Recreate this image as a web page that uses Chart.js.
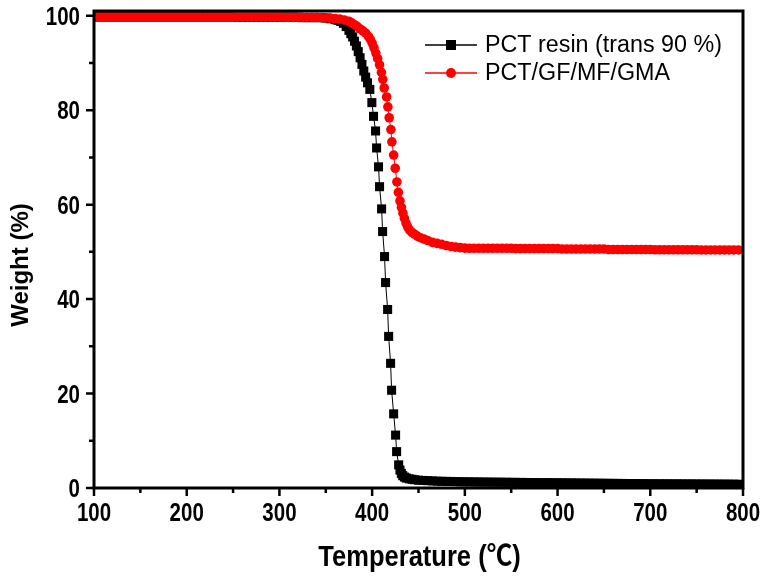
<!DOCTYPE html>
<html><head><meta charset="utf-8">
<script src="https://cdn.jsdelivr.net/npm/chart.js@4.4.0/dist/chart.umd.min.js"></script>
<style>html,body{margin:0;padding:0;background:#fff;}canvas{display:block;}</style>
</head><body>
<canvas id="c" width="766" height="576"></canvas>
<script>
const seriesNames = ['PCT resin (trans 90 %)', 'PCT/GF/MF/GMA'];
const xAxisTitle = 'Temperature (\u2103)';
const yAxisTitle = 'Weight (%)';
const xTickValues = [100, 200, 300, 400, 500, 600, 700, 800];
const yTickValues = [0, 20, 40, 60, 80, 100];

const pctTemp = [100,105,110,115,120,125,130,135,140,145,150,155,160,165,170,175,180,185,190,195,200,205,210,215,220,225,230,235,240,245,250,
255,260,265,270,275,280,285,290,295,300,305,310,315,320,
325,330,335,340,345,350,355,360,
362,364,366,369,372,375,377,379,381,383,385,387,389,391,393,395,
397.5,399.7,401.5,403.7,404.8,406.9,408.0,410.2,411.3,413.4,414.5,416.7,417.8,419.9,421.0,423.2,425.3,426.4,428.6,
430,431.5,433,435,437,440,443,446,450,
455,460,465,470,475,480,485,490,495,500,
505,510,515,520,525,530,535,540,545,550,
555,560,565,570,575,580,585,590,595,600,
605,610,615,620,625,630,635,640,645,650,
655,660,665,670,675,680,685,690,695,700,
705,710,715,720,725,730,735,740,745,750,
755,760,765,770,775,780,785,790,795];
const pctWeight = [99.75,99.75,99.75,99.75,99.75,99.75,99.75,99.75,99.75,99.75,99.75,99.75,99.75,99.75,99.75,99.75,99.75,99.75,99.75,99.75,99.75,99.75,99.75,99.75,99.75,99.75,99.75,99.75,99.75,99.75,99.75,
99.7,99.7,99.7,99.7,99.7,99.7,99.7,99.7,99.7,99.7,99.7,99.7,99.7,99.7,
99.6,99.6,99.6,99.6,99.6,99.5,99.35,99.2,
99.1,99.0,98.8,98.4,97.7,96.9,96.2,95.5,94.6,93.6,92.4,91.1,89.7,88.3,87.0,85.8,
84.4,81.6,78.7,75.6,72.0,68.0,63.8,59.1,54.3,49.0,43.5,37.8,32.1,26.4,20.7,15.7,11.2,7.7,4.9,
3.8,3.1,2.6,2.3,2.1,1.95,1.85,1.75,1.65,
1.6,1.55,1.5,1.45,1.42,1.4,1.38,1.35,1.33,1.3,
1.3,1.28,1.27,1.26,1.25,1.24,1.23,1.22,1.21,1.2,
1.19,1.18,1.17,1.16,1.15,1.14,1.13,1.12,1.11,1.1,
1.09,1.08,1.07,1.06,1.05,1.04,1.03,1.02,1.01,1.0,
0.99,0.98,0.97,0.96,0.95,0.94,0.93,0.92,0.91,0.9,
0.9,0.89,0.89,0.88,0.88,0.87,0.87,0.86,0.86,0.85,
0.85,0.84,0.84,0.83,0.83,0.82,0.82,0.8,0.8];

const gmaTemp = [100,105,110,115,120,125,130,135,140,145,150,155,160,165,170,175,180,185,190,195,200,205,210,215,220,225,230,235,240,245,250,255,260,265,270,275,280,285,290,295,300,
305,310,315,320,325,330,335,340,345,350,355,
360,365,370,375,378,381,384,387,390,393,396,398,400,402,404,406,408,410,411.5,
413.0,415.6,417.0,418.4,420.2,421.3,423.2,424.9,426.7,
428.3,430.0,431.6,433.2,434.8,436.5,438.3,440.5,443,446,449,452,456,460,465,470,475,480,485,490,495,500,
505,510,515,520,525,530,535,540,545,550,
555,560,565,570,575,580,585,590,595,600,
605,610,615,620,625,630,635,640,645,650,
655,660,665,670,675,680,685,690,695,700,
705,710,715,720,725,730,735,740,745,750,
755,760,765,770,775,780,785,790,795];
const gmaWeight = [99.7,99.7,99.7,99.7,99.7,99.7,99.7,99.7,99.7,99.7,99.7,99.7,99.7,99.7,99.7,99.7,99.7,99.7,99.7,99.7,99.7,99.7,99.7,99.7,99.7,99.7,99.7,99.7,99.7,99.7,99.7,99.7,99.7,99.7,99.7,99.7,99.7,99.7,99.7,99.7,99.7,
99.65,99.65,99.65,99.65,99.65,99.65,99.65,99.65,99.6,99.55,99.5,
99.4,99.3,99.1,98.8,98.5,98.1,97.7,97.2,96.8,96.3,95.6,95.0,94.2,93.2,92.1,90.9,89.6,88.0,86.5,
84.7,82.8,80.7,78.4,75.9,73.3,70.5,67.7,64.8,
62.6,60.8,59.4,58.2,57.1,56.1,55.3,54.6,54.1,53.7,53.3,53.0,52.7,52.4,52.0,51.8,51.6,51.35,51.15,51.0,50.9,50.8,
50.75,50.75,50.75,50.75,50.75,50.75,50.75,50.75,50.75,50.75,
50.7,50.7,50.7,50.7,50.7,50.7,50.7,50.7,50.7,50.7,
50.6,50.6,50.6,50.6,50.6,50.6,50.6,50.6,50.6,50.6,
50.5,50.5,50.5,50.5,50.5,50.5,50.5,50.5,50.5,50.5,
50.45,50.45,50.45,50.45,50.45,50.45,50.45,50.45,50.45,50.45,
50.4,50.4,50.4,50.4,50.4,50.4,50.4,50.4,50.4];

const toPoints = (xs, ys) => xs.map((v, i) => ({x: v, y: ys[i]}));

const SANS = '"Liberation Sans", Arial, "Noto Sans CJK KR", sans-serif';
const TICK_FONT = 'bold 25px ' + SANS;
const TICK_SQUEEZE = 0.82;

function squeezedText(ctx, text, x, y, sx, align) {
  ctx.save();
  ctx.translate(x, y);
  ctx.scale(sx, 1);
  ctx.textAlign = align;
  ctx.fillText(text, 0, 0);
  ctx.restore();
}

const decor = {
  id: 'decor',
  afterDatasetsDraw(chart) {
    const {ctx, chartArea: a, scales: {x, y}} = chart;
    ctx.save();
    ctx.strokeStyle = '#000';
    ctx.fillStyle = '#000';
    // frame
    ctx.lineWidth = 3;
    ctx.strokeRect(a.left, a.top, a.right - a.left, a.bottom - a.top);
    // ticks
    ctx.lineWidth = 2.5;
    ctx.beginPath();
    const xv = x.ticks.map(t => t.value);
    xv.forEach((v, i) => {
      const p = x.getPixelForValue(v);
      ctx.moveTo(p, a.bottom); ctx.lineTo(p, a.bottom + 8);
      if (i < xv.length - 1) {
        const pm = x.getPixelForValue((v + xv[i + 1]) / 2);
        ctx.moveTo(pm, a.bottom); ctx.lineTo(pm, a.bottom + 5);
      }
    });
    const yv = y.ticks.map(t => t.value);
    yv.forEach((v, i) => {
      const p = y.getPixelForValue(v);
      ctx.moveTo(a.left, p); ctx.lineTo(a.left - 8, p);
      if (i < yv.length - 1) {
        const pm = y.getPixelForValue((v + yv[i + 1]) / 2);
        ctx.moveTo(a.left, pm); ctx.lineTo(a.left - 5, pm);
      }
    });
    ctx.stroke();

    // tick labels
    ctx.font = TICK_FONT;
    ctx.textBaseline = 'alphabetic';
    x.ticks.forEach(t => {
      squeezedText(ctx, String(t.value), x.getPixelForValue(t.value), 521, TICK_SQUEEZE, 'center');
    });
    y.ticks.forEach(t => {
      squeezedText(ctx, String(t.value), 80, y.getPixelForValue(t.value) + 9, TICK_SQUEEZE, 'right');
    });

    // x title
    ctx.font = 'bold 29px ' + SANS;
    squeezedText(ctx, xAxisTitle, (a.left + a.right) / 2 + 1, 566, 0.88, 'center');

    // y title
    ctx.save();
    ctx.translate(21, 265);
    ctx.rotate(-Math.PI / 2);
    ctx.font = 'bold 24px ' + SANS;
    ctx.textAlign = 'center';
    ctx.textBaseline = 'middle';
    ctx.fillText(yAxisTitle, 0, 0);
    ctx.restore();

    // legend
    const ds = chart.data.datasets;
    const order = [1, 0];
    const rows = [45, 73];
    order.forEach((di, r) => {
      const d = ds[di];
      const yy = rows[r];
      ctx.strokeStyle = d.borderColor;
      ctx.lineWidth = 1.5;
      ctx.beginPath(); ctx.moveTo(425, yy); ctx.lineTo(477, yy); ctx.stroke();
      ctx.fillStyle = d.pointBackgroundColor;
      if (d.pointStyle === 'rect') {
        ctx.fillRect(451 - 5, yy - 5, 10, 10);
      } else {
        ctx.beginPath(); ctx.arc(451, yy, 5, 0, Math.PI * 2); ctx.fill();
      }
      ctx.fillStyle = '#000';
      ctx.font = '23.3px ' + SANS;
      ctx.textAlign = 'left';
      ctx.textBaseline = 'middle';
      ctx.fillText(d.label, 485, yy + 1);
    });
    ctx.restore();
  }
};

new Chart(document.getElementById('c'), {
  type: 'scatter',
  data: {
    datasets: [
      {
        label: seriesNames[1],
        data: toPoints(gmaTemp, gmaWeight),
        showLine: true,
        borderColor: '#ff0000',
        borderWidth: 1,
        pointStyle: 'circle',
        pointRadius: 4.8,
        pointBorderWidth: 0,
        pointBackgroundColor: '#ff0000',
        pointBorderColor: '#ff0000',
        clip: 0
      },
      {
        label: seriesNames[0],
        data: toPoints(pctTemp, pctWeight),
        showLine: true,
        borderColor: '#000000',
        borderWidth: 1,
        pointStyle: 'rect',
        pointRadius: 6.4,
        pointBorderWidth: 0,
        pointBackgroundColor: '#000000',
        pointBorderColor: '#000000',
        clip: 0
      }
    ]
  },
  options: {
    responsive: false,
    animation: false,
    devicePixelRatio: 1,
    layout: {padding: {left: 0, top: 11, right: 23, bottom: 0}},
    plugins: {legend: {display: false}, tooltip: {enabled: false}},
    scales: {
      x: {
        type: 'linear', min: 100, max: 800,
        afterFit: s => { s.height = 88; s.paddingLeft = 0; s.paddingRight = 0; },
        afterBuildTicks: s => { s.ticks = xTickValues.map(v => ({value: v})); },
        grid: {display: false, drawTicks: false},
        border: {display: false},
        ticks: {display: false}
      },
      y: {
        type: 'linear', min: 0, max: 101,
        afterFit: s => { s.width = 94; s.paddingTop = 0; s.paddingBottom = 0; },
        afterBuildTicks: s => { s.ticks = yTickValues.map(v => ({value: v})); },
        grid: {display: false, drawTicks: false},
        border: {display: false},
        ticks: {display: false}
      }
    }
  },
  plugins: [decor]
});
</script>
</body></html>
